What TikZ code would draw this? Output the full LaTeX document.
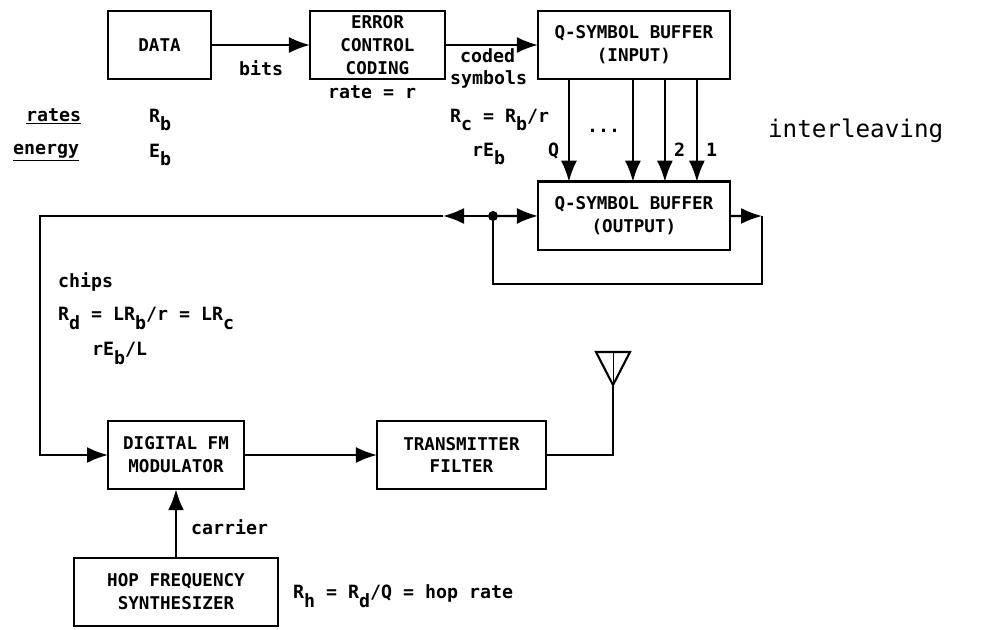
\documentclass[tikz,border=0pt]{standalone}
\usepackage{fontspec}
\setmainfont{DejaVu Sans Mono}
\usepackage{tikz}
\usetikzlibrary{arrows.meta}
\newcommand{\lowsub}[1]{\raisebox{-0.9ex}{#1}}
\tikzset{
  blockbox/.style={draw, line width=1.4pt, align=center, inner sep=0pt, outer sep=0pt, minimum height=1.37cm,
    font=\bfseries\fontsize{10}{13}\selectfont},
  textlabel/.style={inner sep=0pt, anchor=base west, font=\bfseries\fontsize{10.4}{13}\selectfont},
  tapdot/.style={circle, fill, inner sep=0pt, outer sep=0pt, minimum size=0.2cm}
}

\begin{document}
\begin{tikzpicture}[x=0.02cm, y=-0.02cm, line width=1.2pt, >={Latex[length=4.2mm,width=3.2mm]}]
\useasboundingbox (0,0) rectangle (983,629);
% top row
\node[blockbox, minimum width=2.06cm] (data) at (159.5,45) {DATA};
\node[blockbox, minimum width=2.70cm, node distance=4.36cm, right of=data] (ecc) {ERROR \\ CONTROL \\ CODING};
\node[blockbox, minimum width=3.84cm, node distance=5.13cm, right of=ecc] (qin) {Q-SYMBOL BUFFER \\ (INPUT)};
\node[blockbox, minimum width=3.84cm, node distance=3.42cm, below of=qin] (qout) {Q-SYMBOL BUFFER \\ (OUTPUT)};
% lower row
\node[blockbox, minimum width=2.72cm] (fmmod) at (176,455) {DIGITAL FM \\ MODULATOR};
\node[blockbox, minimum width=3.38cm, node distance=5.71cm, right of=fmmod] (txfilt) {TRANSMITTER \\ FILTER};
\node[blockbox, minimum width=4.08cm, node distance=2.74cm, below of=fmmod] (hopsynth) {HOP FREQUENCY \\ SYNTHESIZER};
\node[tapdot] (tap) at (493,216) {};
\coordinate (ltip) at (443,216);
\coordinate (lcorner) at (40,216);
\coordinate (rtip) at (762,216);
\coordinate (rbottom) at (762,284);
\coordinate (anttip) at (613,385);
% labels
\node[textlabel] (bitslbl) at (238,75) {bits};
\node[textlabel] (ratelbl) at (327,98) {rate = r};
\node[textlabel] (codedlbl) at (459,62) {coded};
\node[textlabel] (symlbl) at (449,84) {symbols};
\node[textlabel] (rateslbl) at (25,121) {\underline{rates}};
\node[textlabel] (energylbl) at (12,154) {\underline{energy}};
\node[textlabel] (rb) at (148,122) {R\lowsub{b}};
\node[textlabel] (eb) at (148,157) {E\lowsub{b}};
\node[textlabel] (rc) at (449,122) {R\lowsub{c} = R\lowsub{b}/r};
\node[textlabel] (reb) at (471,156) {rE\lowsub{b}};
\node[textlabel] (qlbl) at (547,156) {Q};
\node[textlabel] (dotslbl) at (586,132) {...};
\node[textlabel] (twolbl) at (673,156) {2};
\node[textlabel] (onelbl) at (705,156) {1};
\node[inner sep=0pt, anchor=base west, font=\fontsize{13.8}{16}\selectfont] (interlbl) at (767,137) {interleaving};
\node[textlabel] (chipslbl) at (57,287) {chips};
\node[textlabel] (rd) at (57,320) {R\lowsub{d} = LR\lowsub{b}/r = LR\lowsub{c}};
\node[textlabel] (rebl) at (91,355) {rE\lowsub{b}/L};
\node[textlabel] (carrierlbl) at (190,534) {carrier};
\node[textlabel] (rh) at (292,598) {R\lowsub{h} = R\lowsub{d}/Q = hop rate};
% connectors
\draw[->] (data) -- (ecc);
\draw[->] (ecc) -- (qin);
\foreach \d in {0.62,1.90,2.54,3.18}
  \draw[->] ([xshift=\d cm]qin.south west) -- ([xshift=\d cm]qout.north west);
\draw[->] (tap) -- (qout.west);
\draw[->] (tap) -- (ltip);
\draw[->] (ltip) -- (lcorner) |- (fmmod.west);
\draw[->] (qout.east) -- (rtip);
\draw (rtip) -- (rbottom) -| (tap);
\draw[->] (fmmod) -- (txfilt);
\draw[->] (hopsynth) -- (fmmod);
\draw (txfilt.east) -| (anttip);
% antenna
\draw (596,352) -- (630,352) -- (anttip) -- cycle;
\draw[thin] (613,352) -- (anttip);
\end{tikzpicture}
\end{document}
